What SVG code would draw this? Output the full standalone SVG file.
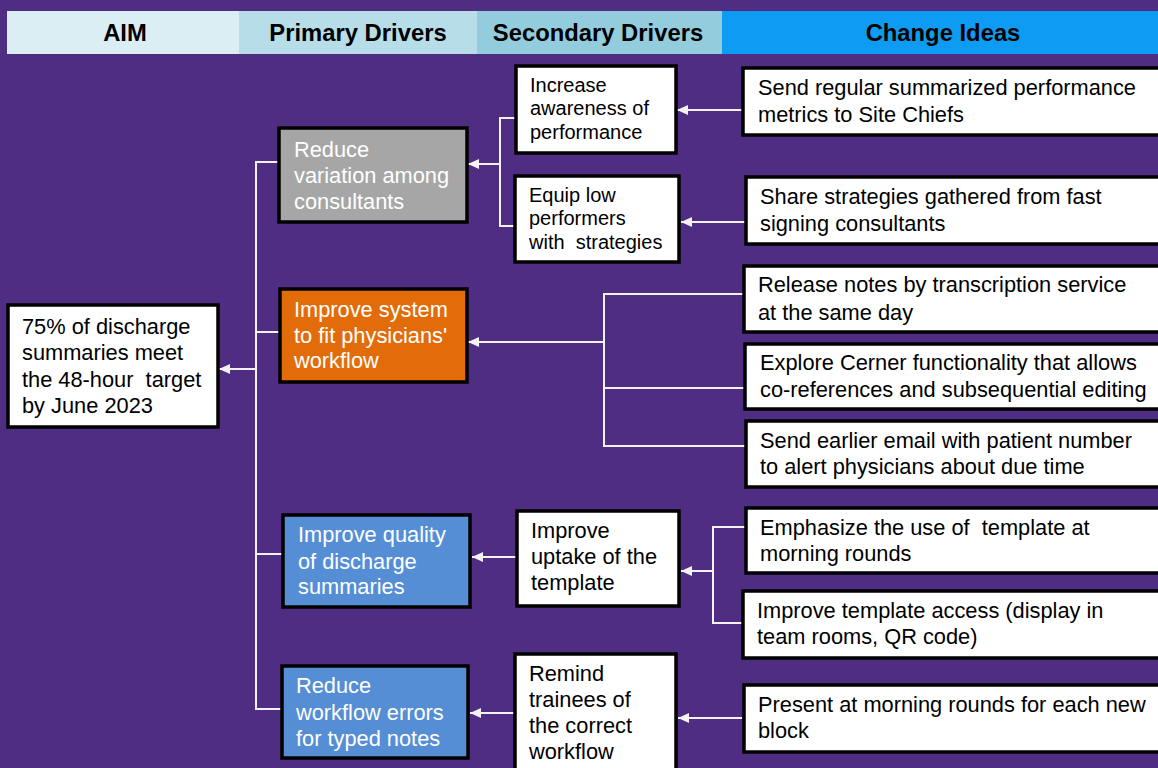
<svg xmlns="http://www.w3.org/2000/svg" width="1158" height="768" viewBox="0 0 1158 768">
<defs>
<style>
text{white-space:pre}
.bg{fill:#4e2d82}
.hdr{font-family:"Liberation Sans",Arial,sans-serif;font-weight:bold;font-size:23.8px;fill:#000;text-anchor:middle}
.box{stroke:#000;stroke-width:3.5}
.w{fill:#fff}
.t{font-family:"Liberation Sans",Arial,sans-serif;font-size:21.8px;fill:#000}
.ts{font-family:"Liberation Sans",Arial,sans-serif;font-size:20px;fill:#000}
.tw{font-family:"Liberation Sans",Arial,sans-serif;font-size:21.8px;fill:#fff}
.c{fill:none;stroke:#f2f2f2;stroke-width:2}
.a{marker-end:url(#arr)}
</style>
<marker id="arr" markerUnits="userSpaceOnUse" markerWidth="12" markerHeight="12" refX="11" refY="6" orient="auto">
<path d="M0,1 L11,6 L0,11 Z" fill="#f2f2f2"/>
</marker>
</defs>
<rect class="bg" x="0" y="0" width="1158" height="768"/>

<g id="header">
<rect x="7" y="11" width="232" height="43" fill="#dbeef4"/>
<rect x="239" y="11" width="238" height="43" fill="#b7dde8"/>
<rect x="477" y="11" width="245" height="43" fill="#93cddd"/>
<rect x="722" y="11" width="436" height="43" fill="#0e9bf3"/>
<text class="hdr" x="125" y="41">AIM</text>
<text class="hdr" x="358" y="41">Primary Drivers</text>
<text class="hdr" x="598" y="41">Secondary Drivers</text>
<text class="hdr" x="943" y="41">Change Ideas</text>
</g>

<g id="connectors">
<path class="c" d="M278,162 H256 V709 H281"/>
<path class="c" d="M256,332 H279"/>
<path class="c" d="M256,554 H282"/>
<path class="c a" d="M256,369 H219"/>
<path class="c" d="M515,118 H500 V226 H514"/>
<path class="c a" d="M500,164 H468"/>
<path class="c a" d="M742,110 H677"/>
<path class="c a" d="M745,222 H681"/>
<path class="c" d="M743,294 H604 V446 H745"/>
<path class="c" d="M604,388 H744"/>
<path class="c a" d="M604,342 H468"/>
<path class="c" d="M745,527 H713 V623 H742"/>
<path class="c a" d="M713,571 H681"/>
<path class="c a" d="M516,557 H472"/>
<path class="c a" d="M742,718 H678"/>
<path class="c a" d="M514,713 H470"/>
</g>

<g id="aim">
<rect class="box w" x="8" y="305" width="210" height="122"/>
<text class="t" x="22" y="334">75% of discharge</text>
<text class="t" x="22" y="360">summaries meet</text>
<text class="t" x="22" y="387">the 48-hour  target</text>
<text class="t" x="22" y="413">by June 2023</text>
</g>

<g id="p1">
<rect class="box" fill="#a6a6a6" x="279" y="128" width="188" height="94"/>
<text class="tw" x="294" y="157">Reduce</text>
<text class="tw" x="294" y="183">variation among</text>
<text class="tw" x="294" y="209">consultants</text>
</g>

<g id="p2">
<rect class="box" fill="#e36c0a" x="280" y="289" width="187" height="93"/>
<text class="tw" x="294" y="317">Improve system</text>
<text class="tw" x="294" y="343">to fit physicians'</text>
<text class="tw" x="294" y="368">workflow</text>
</g>

<g id="p3">
<rect class="box" fill="#558ed5" x="283" y="515" width="187" height="92"/>
<text class="tw" x="298" y="542">Improve quality</text>
<text class="tw" x="298" y="569">of discharge</text>
<text class="tw" x="298" y="594">summaries</text>
</g>

<g id="p4">
<rect class="box" fill="#558ed5" x="282" y="666" width="186" height="92"/>
<text class="tw" x="296" y="693">Reduce</text>
<text class="tw" x="296" y="720">workflow errors</text>
<text class="tw" x="296" y="746">for typed notes</text>
</g>

<g id="s1">
<rect class="box w" x="516" y="66" width="160" height="87"/>
<text class="ts" x="530" y="92">Increase</text>
<text class="ts" x="530" y="115">awareness of</text>
<text class="ts" x="530" y="139">performance</text>
</g>

<g id="s2">
<rect class="box w" x="515" y="176" width="164" height="86"/>
<text class="ts" x="529" y="202">Equip low</text>
<text class="ts" x="529" y="225">performers</text>
<text class="ts" x="529" y="249">with  strategies</text>
</g>

<g id="s3">
<rect class="box w" x="517" y="511" width="162" height="95"/>
<text class="t" x="531" y="538">Improve</text>
<text class="t" x="531" y="564">uptake of the</text>
<text class="t" x="531" y="590">template</text>
</g>

<g id="s4">
<rect class="box w" x="515" y="654" width="161" height="120"/>
<text class="t" x="529" y="681">Remind</text>
<text class="t" x="529" y="707">trainees of</text>
<text class="t" x="529" y="733">the correct</text>
<text class="t" x="529" y="759">workflow</text>
</g>

<g id="c1">
<rect class="box w" x="743" y="68" width="420" height="67"/>
<text class="t" x="758" y="95">Send regular summarized performance</text>
<text class="t" x="758" y="122">metrics to Site Chiefs</text>
</g>

<g id="c2">
<rect class="box w" x="746" y="177" width="417" height="67"/>
<text class="t" x="760" y="204">Share strategies gathered from fast</text>
<text class="t" x="760" y="231">signing consultants</text>
</g>

<g id="c3">
<rect class="box w" x="744" y="266" width="419" height="66"/>
<text class="t" x="758" y="292">Release notes by transcription service</text>
<text class="t" x="758" y="320">at the same day</text>
</g>

<g id="c4">
<rect class="box w" x="745" y="344" width="418" height="65"/>
<text class="t" x="760" y="370">Explore Cerner functionality that allows</text>
<text class="t" x="760" y="397">co-references and subsequential editing</text>
</g>

<g id="c5">
<rect class="box w" x="746" y="421" width="417" height="66"/>
<text class="t" x="760" y="448">Send earlier email with patient number</text>
<text class="t" x="760" y="474">to alert physicians about due time</text>
</g>

<g id="c6">
<rect class="box w" x="746" y="508" width="417" height="65"/>
<text class="t" x="760" y="535">Emphasize the use of  template at</text>
<text class="t" x="760" y="561">morning rounds</text>
</g>

<g id="c7">
<rect class="box w" x="743" y="591" width="420" height="67"/>
<text class="t" x="757" y="618">Improve template access (display in</text>
<text class="t" x="757" y="644">team rooms, QR code)</text>
</g>

<g id="c8">
<rect class="box w" x="744" y="685" width="419" height="67"/>
<text class="t" x="758" y="712">Present at morning rounds for each new</text>
<text class="t" x="758" y="738">block</text>
</g>
</svg>
